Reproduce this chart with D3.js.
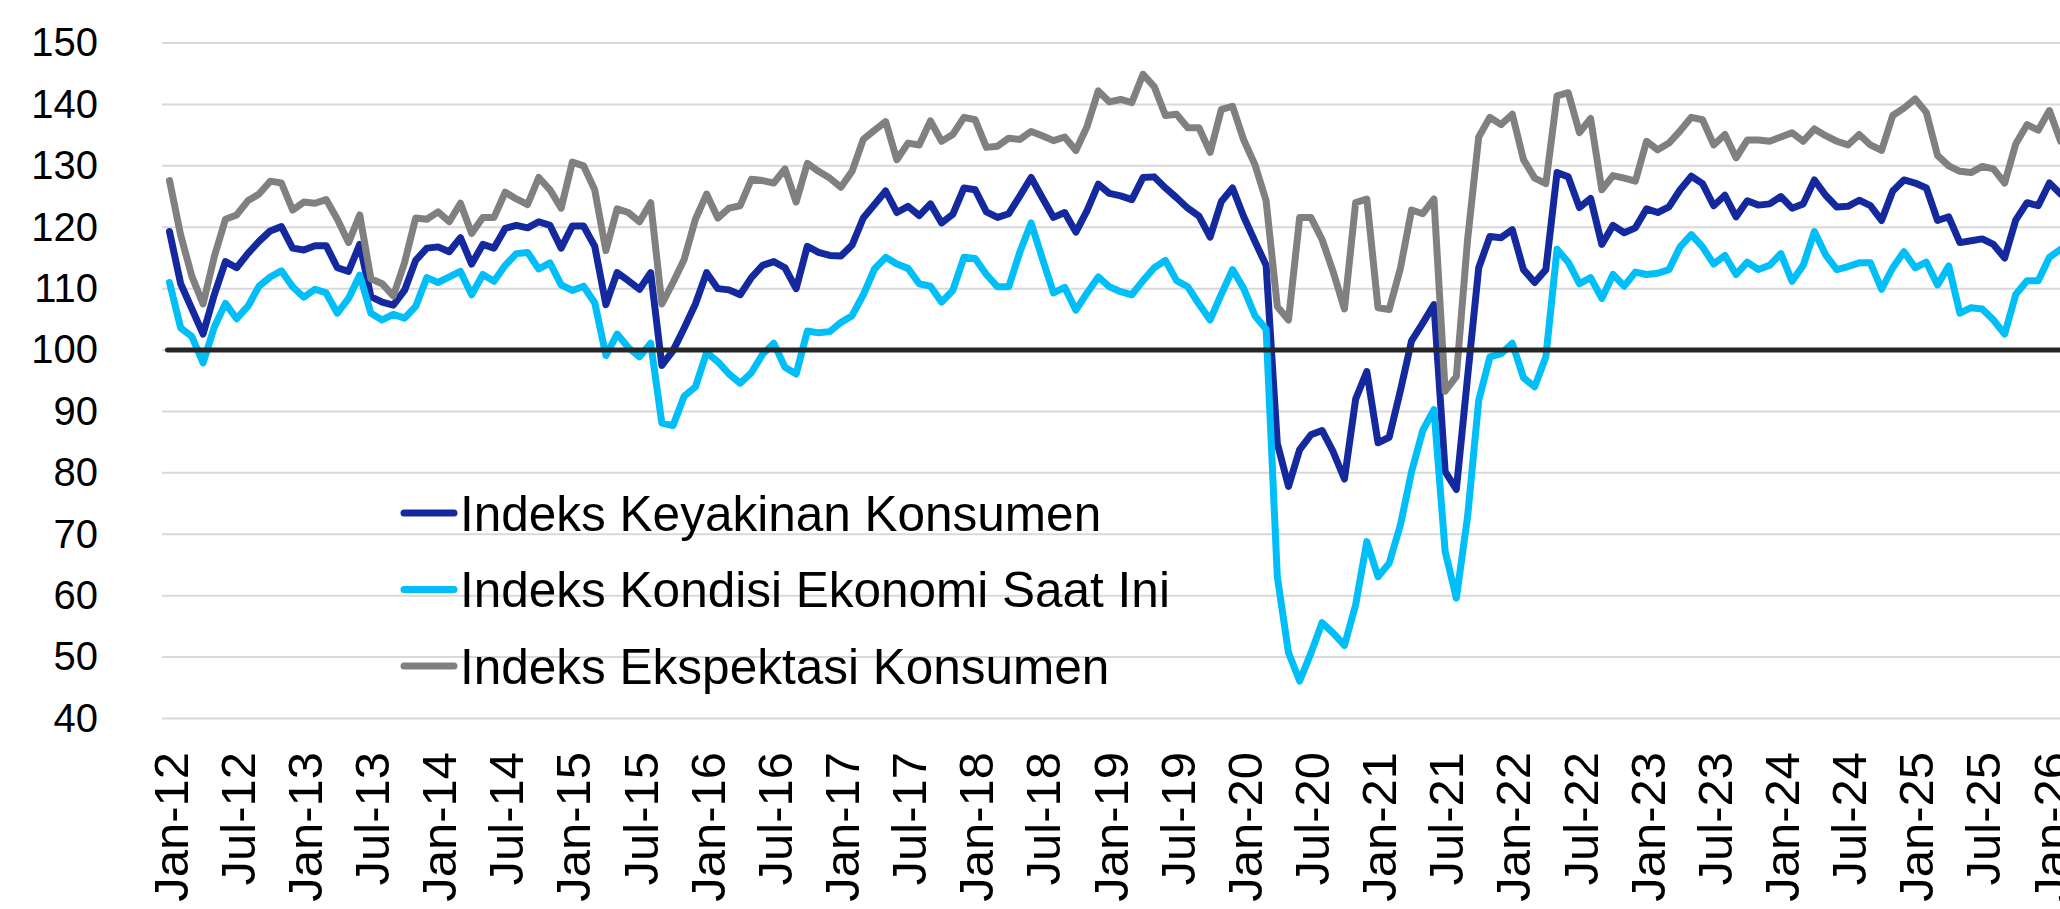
<!DOCTYPE html>
<html>
<head>
<meta charset="utf-8">
<script src="https://cdn.jsdelivr.net/npm/d3@7"></script>
<style>
body { margin: 0; background: #fff; }
svg { display: block; font-family: "Liberation Sans", Arial, sans-serif; }
</style>
</head>
<body>
<svg id="chart" width="2060" height="909"></svg>
<script>
// monthly categories Jan-12 .. Feb-26
const months = d3.timeMonth.range(new Date(2012, 0, 1), new Date(2026, 2, 1)).map(d3.timeFormat("%b-%y"));

const tickLabels = ["Jan-12", "Jul-12", "Jan-13", "Jul-13", "Jan-14", "Jul-14", "Jan-15", "Jul-15",
    "Jan-16", "Jul-16", "Jan-17", "Jul-17", "Jan-18", "Jul-18", "Jan-19", "Jul-19", "Jan-20", "Jul-20",
    "Jan-21", "Jul-21", "Jan-22", "Jul-22", "Jan-23", "Jul-23", "Jan-24", "Jul-24", "Jan-25", "Jul-25", "Jan-26"];

const yTicks = [40, 50, 60, 70, 80, 90, 100, 110, 120, 130, 140, 150];

// Indeks Keyakinan Konsumen
const ikk = [
    119.3, 110.8, 106.7, 102.6, 109.0, 114.4, 113.4, 115.7, 117.7, 119.4, 120.1, 116.6,
    116.3, 117.0, 117.0, 113.4, 112.8, 117.2, 108.7, 107.8, 107.3, 109.7, 114.6, 116.6,
    116.8, 116.0, 118.3, 114.0, 117.2, 116.6, 119.8, 120.3, 119.9, 120.9, 120.3, 116.6,
    120.2, 120.2, 116.9, 107.4, 112.6, 111.3, 109.9, 112.6, 97.5, 99.9, 103.6, 107.5,
    112.6, 110.0, 109.8, 109.0, 111.8, 113.8, 114.4, 113.4, 110.0, 116.9, 115.9, 115.4,
    115.3, 117.1, 121.5, 123.7, 125.9, 122.4, 123.4, 121.9, 123.8, 120.7, 122.1, 126.4,
    126.1, 122.5, 121.6, 122.2, 125.1, 128.1, 124.8, 121.6, 122.4, 119.2, 122.7, 127.0,
    125.5, 125.1, 124.5, 128.1, 128.2, 126.4, 124.8, 123.1, 121.8, 118.4, 124.2, 126.4,
    121.7, 117.7, 113.8, 84.8, 77.8, 83.8, 86.2, 86.9, 83.4, 79.0, 92.0, 96.5,
    84.9, 85.8, 93.4, 101.5, 104.4, 107.4, 80.2, 77.3, 95.5, 113.4, 118.5, 118.3,
    119.6, 113.1, 111.0, 113.1, 128.9, 128.2, 123.2, 124.7, 117.2, 120.3, 119.1, 119.9,
    123.0, 122.4, 123.3, 126.1, 128.3, 127.1, 123.5, 125.2, 121.7, 124.3, 123.6, 123.8,
    125.0, 123.1, 123.8, 127.7, 125.2, 123.3, 123.4, 124.4, 123.5, 121.1, 125.9, 127.7,
    127.2, 126.4, 121.1, 121.7, 117.5, 117.8, 118.1, 117.2, 115.0, 121.2, 124.0, 123.5,
    127.2, 125.4
];

// Indeks Kondisi Ekonomi Saat Ini
const ike = [
    111.0, 103.6, 102.2, 97.9, 103.7, 107.6, 105.1, 107.1, 110.4, 111.9, 112.9, 110.3,
    108.6, 109.9, 109.3, 106.0, 108.4, 112.2, 106.0, 104.9, 105.8, 105.2, 107.1, 111.8,
    111.0, 111.9, 112.8, 109.0, 112.3, 111.2, 113.8, 115.7, 115.9, 113.2, 114.2, 110.6,
    109.7, 110.4, 107.7, 99.1, 102.6, 100.4, 98.9, 101.1, 88.1, 87.7, 92.5, 94.0,
    99.6, 98.1, 96.1, 94.6, 96.3, 99.3, 101.1, 97.2, 96.1, 103.1, 102.8, 103.0,
    104.5, 105.6, 109.0, 113.2, 115.1, 114.0, 113.3, 110.8, 110.4, 107.8, 109.7, 115.1,
    114.9, 112.3, 110.3, 110.3, 116.0, 120.7, 114.9, 109.3, 110.2, 106.5, 109.3, 111.9,
    110.3, 109.5, 109.0, 111.3, 113.4, 114.6, 111.3, 110.3, 107.5, 104.9, 109.1, 113.1,
    110.0, 105.6, 103.4, 63.1, 50.7, 46.1, 50.6, 55.6, 53.9, 51.9, 58.5, 68.8,
    63.1, 65.3, 71.5, 80.2, 86.9, 90.3, 67.2, 59.6, 72.8, 91.8, 98.9, 99.4,
    101.1, 95.5, 94.0, 98.9, 116.4, 114.3, 110.8, 111.8, 108.4, 112.3, 110.4, 112.7,
    112.3, 112.5, 113.1, 116.8, 118.8, 116.8, 114.0, 115.4, 112.3, 114.3, 113.1, 113.8,
    115.7, 111.2, 113.8, 119.3, 115.5, 113.1, 113.6, 114.2, 114.2, 109.9, 113.4, 116.0,
    113.4, 114.3, 110.6, 113.7, 106.0, 106.9, 106.7, 104.9, 102.6, 109.1, 111.3, 111.3,
    115.1, 116.4
];

// Indeks Ekspektasi Konsumen
const iek = [
    127.6, 118.7, 112.0, 107.5, 115.2, 121.3, 122.0, 124.3, 125.4, 127.5, 127.2, 122.8,
    124.1, 123.9, 124.5, 121.3, 117.5, 122.0, 111.6, 110.8, 108.8, 114.2, 121.5, 121.3,
    122.5, 120.9, 123.9, 119.0, 121.6, 121.6, 125.7, 124.6, 123.7, 128.1, 126.1, 123.1,
    130.6, 130.0, 126.1, 116.2, 123.0, 122.4, 120.9, 124.0, 107.5, 111.0, 114.8, 121.3,
    125.4, 121.5, 123.1, 123.5, 127.8, 127.6, 127.2, 129.5, 124.1, 130.4, 129.1, 128.0,
    126.5, 129.1, 134.3, 135.8, 137.2, 131.0, 133.7, 133.4, 137.3, 134.0, 135.1, 137.9,
    137.5, 133.0, 133.2, 134.5, 134.3, 135.6, 134.9, 134.1, 134.7, 132.5, 136.4, 142.2,
    140.4, 140.8, 140.3, 144.9, 142.9, 138.2, 138.4, 136.2, 136.2, 132.2, 139.2, 139.7,
    134.2, 130.2, 124.3, 107.1, 104.9, 121.6, 121.6, 118.0, 112.7, 106.7, 124.0, 124.6,
    106.9, 106.6, 113.3, 122.8, 122.2, 124.6, 93.3, 95.7, 117.9, 134.7, 137.9, 136.7,
    138.4, 131.0, 128.0, 127.1, 141.4, 141.9, 135.4, 137.7, 126.1, 128.4, 128.0, 127.5,
    134.0, 132.6, 133.7, 135.7, 137.9, 137.5, 133.4, 135.1, 131.3, 134.2, 134.2, 134.0,
    134.7, 135.4, 134.0, 136.0, 134.9, 134.0, 133.4, 135.1, 133.4, 132.5, 138.2, 139.4,
    140.9, 138.7, 131.7, 130.0, 129.1, 128.9, 129.9, 129.5, 127.2, 133.6, 136.7, 135.8,
    139.0, 134.0
];

const seriesNames = ["Indeks Keyakinan Konsumen", "Indeks Kondisi Ekonomi Saat Ini", "Indeks Ekspektasi Konsumen"];
const seriesColors = ["#15299f", "#00bef8", "#808080"];
const series = [ikk, ike, iek];

var svg = d3.select("#chart");

var x = d3.scalePoint().domain(months).range([169.5, 2060.6]);
var y = d3.scaleLinear().domain([40, 150]).range([718.5, 43]);

// gridlines
svg.append("g")
    .selectAll("line")
    .data(yTicks)
    .enter()
    .append("line")
    .attr("x1", 162)
    .attr("x2", 2060)
    .attr("y1", d => y(d))
    .attr("y2", d => y(d))
    .attr("stroke", "#d9d9d9")
    .attr("stroke-width", 2);

// y labels
var yAxis = svg.append("g")
    .attr("transform", "translate(98,0)")
    .call(d3.axisLeft(y).tickValues(yTicks).tickSize(0).tickPadding(0));
yAxis.select(".domain").remove();
yAxis.selectAll("text")
    .style("font-size", "40px")
    .style("font-family", "'Liberation Sans', Arial, sans-serif")
    .attr("fill", "#000");

// x labels, rotated
var xAxis = svg.append("g")
    .attr("transform", "translate(0,752)")
    .call(d3.axisBottom(x).tickValues(tickLabels).tickSize(0));
xAxis.select(".domain").remove();
xAxis.selectAll("text")
    .attr("transform", "rotate(-90)")
    .attr("text-anchor", "end")
    .attr("x", 0)
    .attr("y", 0)
    .attr("dy", "0.36em")
    .style("font-size", "49px")
    .style("font-family", "'Liberation Sans', Arial, sans-serif")
    .attr("fill", "#000");

// series lines
var line = d3.line()
    .x((d, i) => x(months[i]))
    .y(d => y(d));

svg.append("g")
    .selectAll("path")
    .data(series)
    .enter()
    .append("path")
    .attr("d", d => line(d))
    .attr("fill", "none")
    .attr("stroke", (d, i) => seriesColors[i])
    .attr("stroke-width", 7)
    .attr("stroke-linejoin", "round")
    .attr("stroke-linecap", "round");

// 100 reference line
svg.append("line")
    .attr("x1", x(months[0]) - 2)
    .attr("x2", 2060)
    .attr("y1", y(100))
    .attr("y2", y(100))
    .attr("stroke", "#262626")
    .attr("stroke-width", 5)
    .attr("stroke-linecap", "round");

// legend
var legend = svg.append("g")
    .selectAll("g")
    .data(seriesNames)
    .enter()
    .append("g")
    .attr("transform", (d, i) => "translate(0," + (513 + i * 76.5) + ")");

legend.append("line")
    .attr("x1", 404)
    .attr("x2", 454)
    .attr("stroke", (d, i) => seriesColors[i])
    .attr("stroke-width", 7)
    .attr("stroke-linecap", "round");

legend.append("text")
    .attr("x", 460)
    .attr("dy", "0.36em")
    .style("font-size", "49.5px")
    .attr("fill", "#000")
    .text(d => d);
</script>
</body>
</html>
